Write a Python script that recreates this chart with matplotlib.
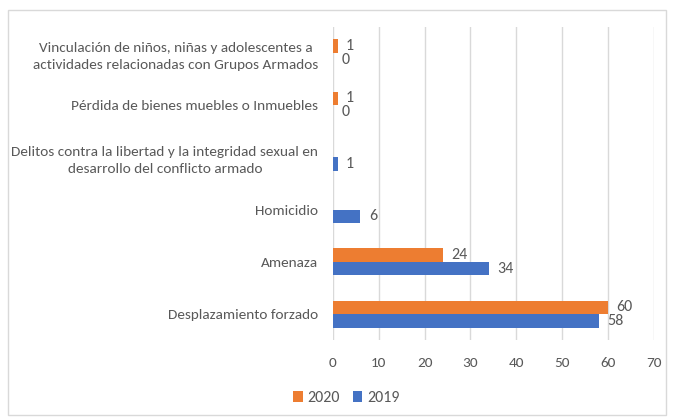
import matplotlib.pyplot as plt
from matplotlib.patches import Rectangle
import numpy as np

plt.rcParams['font.family'] = ['Carlito', 'Lato', 'DejaVu Sans']

# datos (de abajo hacia arriba)
categorias = [
    'Desplazamiento forzado',
    'Amenaza',
    'Homicidio',
    'Delitos contra la libertad y la integridad sexual en\ndesarrollo del conflicto armado',
    'Pérdida de bienes muebles o Inmuebles',
    'Vinculación de niños, niñas y adolescentes a\nactividades relacionadas con Grupos Armados',
]
valores_2020 = [60, 24, np.nan, np.nan, 1, 1]
valores_2019 = [58, 34, 6, 1, 0, 0]
xticks = [0, 10, 20, 30, 40, 50, 60, 70]

c2020 = '#ED7D31'
c2019 = '#4472C4'
gris = '#595959'

fig = plt.figure(figsize=(6.74, 4.2), dpi=100)
ax = fig.add_axes([0.494, 0.19, 0.476, 0.746])

y = np.arange(len(categorias))
h = 0.26
b20 = ax.barh(y + h / 2, valores_2020, height=h, color=c2020, label='2020', zorder=3)
b19 = ax.barh(y - h / 2, valores_2019, height=h, color=c2019, label='2019', zorder=3)

# etiquetas de valores
for barras, vals in ((b20, valores_2020), (b19, valores_2019)):
    for rect, v in zip(barras, vals):
        if np.isnan(v):
            continue
        ax.annotate(f'{v:g}', xy=(v, rect.get_y() + rect.get_height() / 2),
                    xytext=(6, 0), textcoords='offset points',
                    ha='left', va='center', fontsize=11.5, color=gris)

ax.set_xlim(0, 70)
ax.set_ylim(-0.5, len(categorias) - 0.5)
ax.set_xticks(xticks)
ax.set_yticks(y)
ax.set_yticklabels(categorias, multialignment='center', linespacing=1.5, fontsize=10.7)
ax.tick_params(axis='both', length=0, labelsize=11, labelcolor=gris)
ax.tick_params(axis='y', pad=10.5)
ax.tick_params(axis='x', pad=12)
ax.grid(axis='x', color='#D9D9D9', linewidth=1, zorder=0)
for s in ax.spines.values():
    s.set_visible(False)

fig.legend(handles=[b20, b19], loc='center', bbox_to_anchor=(0.514, 0.052), ncol=2,
           frameon=False, fontsize=11.5, labelcolor=gris,
           handlelength=0.6, handleheight=0.6, handletextpad=0.3, columnspacing=0.8)

# borde del gráfico
fig.patches.append(Rectangle((0.012, 0.012), 0.976, 0.965, transform=fig.transFigure,
                             fill=False, edgecolor='#D9D9D9', linewidth=1))

fig.savefig('out.png', dpi=100)
